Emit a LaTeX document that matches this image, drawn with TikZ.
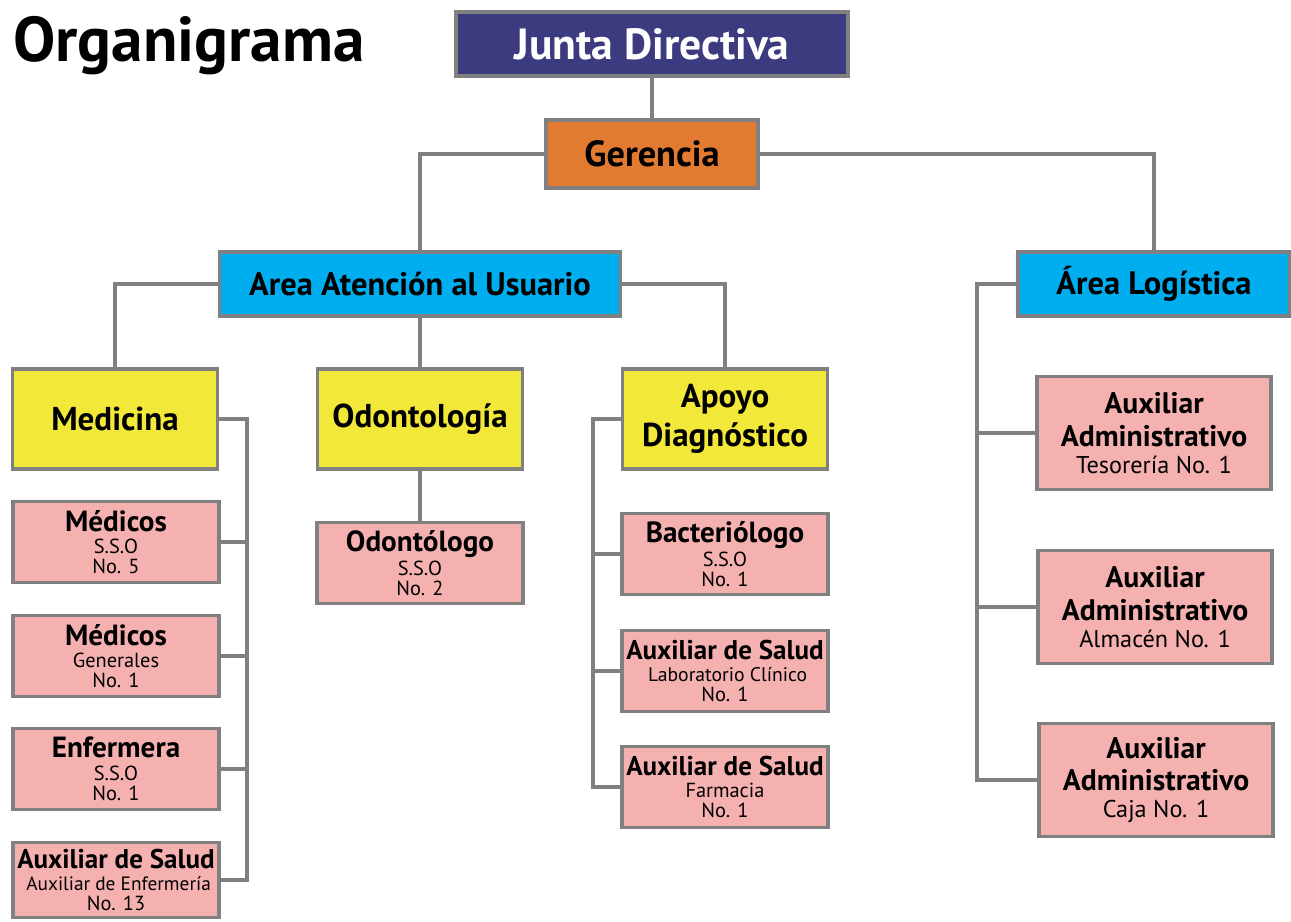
\documentclass[tikz,border=0pt]{standalone}
\usepackage{fontspec}
\setmainfont{PT Sans}
\usetikzlibrary{positioning, calc}

\definecolor{junta}{RGB}{61,59,128}
\definecolor{naranja}{RGB}{227,122,50}
\definecolor{celeste}{RGB}{0,174,239}
\definecolor{amarillo}{RGB}{242,232,58}
\definecolor{rosa}{RGB}{245,176,176}
\definecolor{linea}{RGB}{128,128,128}

\newcommand{\cargo}[2][16.6]{{\fontsize{#1}{#1}\selectfont\bfseries #2}}
\newcommand{\detalle}[1][11.6]{\fontsize{#1}{11.6}\selectfont}

\begin{document}
\begin{tikzpicture}[x=0.02cm, y=-0.02cm,
    caja/.style={draw=linea, line width=2pt, align=center, inner sep=1pt},
    nivel/.style={caja, minimum width=#1, minimum height=1.28cm,
        font=\fontsize{18.5}{19}\selectfont\bfseries},
    area/.style={caja, fill=amarillo, minimum width=4.1cm, minimum height=2cm,
        font=\fontsize{18.8}{22}\selectfont\bfseries},
    puesto/.style={caja, fill=rosa, minimum width=4.12cm, minimum height=1.62cm,
        font=\detalle},
    auxlog/.style={caja, fill=rosa, minimum width=4.68cm, minimum height=2.26cm,
        font=\fontsize{16.9}{18.5}\selectfont\bfseries},
    conector/.style={draw=linea, line width=2.3pt}]
    \useasboundingbox (0,0) rectangle (1291,922);
    \node[anchor=base west, inner sep=0pt, font=\fontsize{36}{36}\selectfont\bfseries] at (13,62) (titulo) {Organigrama};
    % niveles superiores
    \node[nivel=7.84cm, fill=junta, text=white, font=\fontsize{24.8}{25}\selectfont\bfseries] at (652,44) (Junta) {Junta Directiva};
    \node[nivel=4.24cm, fill=naranja, minimum height=1.36cm, font=\fontsize{20.7}{21}\selectfont\bfseries] at (652,154) (Gerencia) {Gerencia};
    \node[nivel=8.02cm, fill=celeste] at (420,284) (AreaAt) {Area Atención al Usuario};
    \node[nivel=5.44cm, fill=celeste] at (1154,284) (AreaLog) {Área Logística};
    % areas
    \node[area] at (115,419) (Medicina) {Medicina};
    \node[area] at (420,419) (Odontologia) {Odontología};
    \node[area] at (725,419) (Apoyo) {Apoyo\\Diagnóstico};
    % medicina
    \node[puesto] at (116,542) (MedSSO) {\cargo{Médicos}\\[1pt] S.S.O\\ No. 5};
    \node[puesto] at (116,656) (MedGen) {\cargo{Médicos}\\[1pt] Generales\\ No. 1};
    \node[puesto] at (116,769) (Enfermera) {\cargo{Enfermera}\\[1pt] S.S.O\\ No. 1};
    \node[puesto, minimum height=1.5cm] at (116,880) (AuxSalMed) {\cargo[15.4]{Auxiliar de Salud}\\[1pt] \detalle[11] Auxiliar de Enfermería\\ \detalle No. 13};
    % odontologia
    \node[puesto] at (420,563) (Odontologo) {\cargo{Odontólogo}\\[1pt] S.S.O\\ No. 2};
    % apoyo diagnostico
    \node[puesto] at (725,554) (Bacteriologo) {\cargo{Bacteriólogo}\\[1pt] S.S.O\\ No. 1};
    \node[puesto] at (725,671) (AuxLab) {\cargo[15.4]{Auxiliar de Salud}\\[1pt] \detalle[11.2] Laboratorio Clínico\\ \detalle No. 1};
    \node[puesto] at (725,787) (AuxFarm) {\cargo[15.4]{Auxiliar de Salud}\\[1pt] Farmacia\\ No. 1};
    % logistica
    \node[auxlog] at (1154,433) (AuxTes) {Auxiliar\\Administrativo\\[-3pt] \fontsize{13.8}{15}\selectfont\mdseries Tesorería No. 1};
    \node[auxlog] at (1155,607) (AuxAlm) {Auxiliar\\Administrativo\\[-3pt] \fontsize{13.8}{15}\selectfont\mdseries Almacén No. 1};
    \node[auxlog] at (1156,780) (AuxCaja) {Auxiliar\\Administrativo\\[-3pt] \fontsize{13.8}{15}\selectfont\mdseries Caja No. 1};

    \draw[conector] (Junta.south) -- (Gerencia.north);
    \draw[conector] (Gerencia.west) -| (AreaAt.north);
    \draw[conector] (Gerencia.east) -| (AreaLog.north);
    \draw[conector] (AreaAt.west) -| (Medicina.north);
    \draw[conector] (AreaAt.south) -- (Odontologia.north);
    \draw[conector] (AreaAt.east) -| (Apoyo.north);
    \draw[conector] (Odontologia.south) -- (Odontologo.north);
    % barras laterales
    \coordinate (busMed) at ($(Medicina.east)+(28,0)$);
    \draw[conector] (Medicina.east) -- (busMed) |- (AuxSalMed.east);
    \foreach \n in {MedSSO, MedGen, Enfermera}
        \draw[conector] (\n.east) -- (\n.east -| busMed);
    \coordinate (busApoyo) at ($(Apoyo.west)+(-28,0)$);
    \draw[conector] (Apoyo.west) -- (busApoyo) |- (AuxFarm.west);
    \foreach \n in {Bacteriologo, AuxLab}
        \draw[conector] (\n.west) -- (\n.west -| busApoyo);
    \coordinate (busLog) at ($(AreaLog.west)+(-39,0)$);
    \draw[conector] (AreaLog.west) -- (busLog) |- (AuxCaja.west);
    \foreach \n in {AuxTes, AuxAlm}
        \draw[conector] (\n.west) -- (\n.west -| busLog);
\end{tikzpicture}
\end{document}
